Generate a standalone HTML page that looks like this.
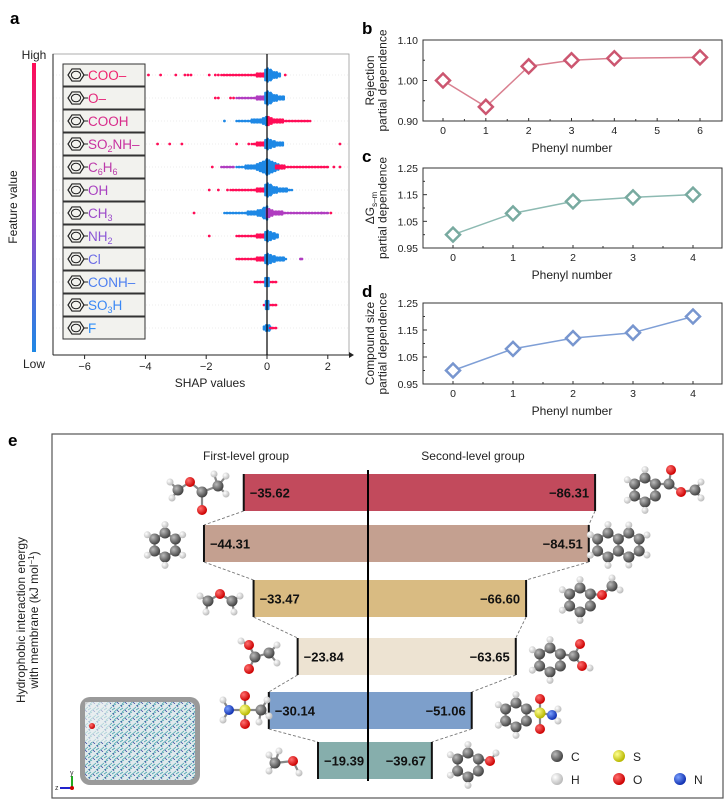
<!DOCTYPE html>
<html><head><meta charset="utf-8"><style>
body{margin:0;background:#fff;}
svg{display:block;font-family:"Liberation Sans",sans-serif;}
</style></head><body>
<svg id="s" width="727" height="800" viewBox="0 0 727 800" xmlns="http://www.w3.org/2000/svg">
<defs>
<radialGradient id="gC" cx="35%" cy="35%" r="65%"><stop offset="0" stop-color="#bbb"/><stop offset="1" stop-color="#444"/></radialGradient>
<radialGradient id="gH" cx="35%" cy="35%" r="65%"><stop offset="0" stop-color="#fff"/><stop offset="1" stop-color="#bbb"/></radialGradient>
<radialGradient id="gO" cx="35%" cy="35%" r="65%"><stop offset="0" stop-color="#ff7070"/><stop offset="1" stop-color="#c00"/></radialGradient>
<radialGradient id="gS" cx="35%" cy="35%" r="65%"><stop offset="0" stop-color="#ffff90"/><stop offset="1" stop-color="#b8b800"/></radialGradient>
<radialGradient id="gN" cx="35%" cy="35%" r="65%"><stop offset="0" stop-color="#7aa0ff"/><stop offset="1" stop-color="#1030b0"/></radialGradient>
<pattern id="mem" width="8" height="8" patternUnits="userSpaceOnUse"><rect width="8" height="8" fill="#dfe9ec"/><path d="M0 2L4 0M2 8L8 3M0 6L3 4" stroke="#4aa6b0" stroke-width="0.8"/><path d="M5 6L7 8M1 1L2 3" stroke="#2b3c9a" stroke-width="0.7"/></pattern>
</defs>
<g id="pa"></g>
<g id="pb"></g>
<g id="pc"></g>
<g id="pd"></g>
<g id="pe"></g>
</svg>
<script>
const NS="http://www.w3.org/2000/svg";
function mk(p,tag,at,txt){const e=document.createElementNS(NS,tag);for(const k in at)e.setAttribute(k,at[k]);if(txt!==undefined)e.textContent=txt;p.appendChild(e);return e;}

// ===== Panel a data =====
const featureNames=[["COO–"],["O–"],["COOH"],["SO",["2"],"NH–"],["C",["6"],"H",["6"]],["OH"],["CH",["3"]],["NH",["2"]],["Cl"],["CONH–"],["SO",["3"],"H"],["F"]];
const featureColors=["#f0246e","#e5267a","#d82a8a","#c832a0","#bb3aaa","#a83fc0","#9b48c8","#8a55d6","#6c6ce6","#4c7ef0","#3a88f5","#2f8ff8"];
const shapTicks=[-6,-4,-2,0,2];
// segments: [row, from, to, colorKey, peakSpread]
const shapSegments=[
[0,-1.5,0,"r",3],[0,-0.05,0.4,"b",6],
[1,-1.0,0,"m",3],[1,-0.05,0.55,"b",6],
[2,-1.0,0,"b",4],[2,0.05,1.4,"r",4],
[3,-0.5,0,"r",3],[3,-0.05,0.5,"b",5],
[4,-1.0,0.5,"b",7],[4,0.3,2.0,"r",5],[4,-1.5,-1.1,"m",1],
[5,-1.2,0,"r",3],[5,-0.05,0.8,"b",6],
[6,-1.4,0,"b",6],[6,0,2.0,"m",4],
[7,-1.0,0,"r",3],[7,-0.05,0.35,"b",5],
[8,-1.0,0,"r",3],[8,-0.05,0.6,"b",5],
[9,-0.4,0.3,"r",1],[9,-0.05,0.05,"b",4],
[10,-0.1,0.3,"r",1],[10,-0.03,0.03,"b",4],
[11,-0.1,0.1,"b",3],[11,0.1,0.3,"r",1]];
// sparse: [row, x, colorKey]
const shapSparse=[[0,-3.9,"r"],[0,-3.5,"r"],[0,-3.0,"r"],[0,-2.7,"r"],[0,-2.6,"r"],[0,-2.5,"r"],[0,-1.9,"r"],[0,-1.7,"r"],[0,-1.6,"r"],[0,0.6,"r"],
[1,-1.7,"r"],[1,-1.6,"r"],[1,-1.2,"r"],[1,-1.1,"r"],[2,-1.4,"b"],
[3,-3.6,"r"],[3,-3.2,"r"],[3,-2.8,"r"],[3,-1.0,"r"],[3,-0.6,"r"],[3,2.4,"r"],
[4,-1.8,"r"],[4,2.2,"r"],[4,2.4,"r"],[5,-1.9,"r"],[5,-1.6,"r"],[5,-1.3,"r"],
[6,-2.4,"r"],[6,2.1,"r"],[6,1.8,"m"],[7,-1.9,"r"],[8,1.1,"m"],[8,1.15,"m"]];
const dotCol={r:"#ff0d57",b:"#1e88e5",m:"#b03cc0"};
(function(){
 const g=document.getElementById("pa");
 const xa=v=>267+v*30.4, ry=i=>75+i*23;
 mk(g,"text",{x:10,y:24,"font-size":17,"font-weight":"bold"},"a");
 mk(g,"rect",{x:53,y:54,width:296,height:301,fill:"none",stroke:"#999","stroke-width":0.8,});
 for(let i=0;i<12;i++)mk(g,"line",{x1:53,x2:349,y1:ry(i),y2:ry(i),stroke:"#ddd","stroke-dasharray":"1 2","stroke-width":0.6});
 mk(g,"line",{x1:53,x2:53,y1:54,y2:355,stroke:"#222","stroke-width":1});
 mk(g,"line",{x1:53,x2:349,y1:355,y2:355,stroke:"#222","stroke-width":1});
 mk(g,"path",{d:"M349 352L354 355L349 358Z",fill:"#222"});
 shapTicks.forEach(t=>{mk(g,"line",{x1:xa(t),x2:xa(t),y1:355,y2:359,stroke:"#222"});
  const tl=mk(g,"text",{x:xa(t),y:370,"font-size":11,"text-anchor":"middle",fill:"#222"},t<0?"−"+(-t):String(t));
  
  });
 mk(g,"text",{x:210,y:387,"font-size":12,"text-anchor":"middle",fill:"#222",},"SHAP values");
 const jit=[0,-1.6,1.6,-3.2,3.2,-4.8,4.8,-6.4,6.4,-8,8,-9.6,9.6];
 shapSegments.forEach(s=>{const [row,a,b,c,sp]=s;let k=0;
  for(let v=a;v<=b+1e-9;v+=0.05){const n=1+Math.round((sp-1)*Math.exp(-Math.abs(v)*3.5));
   const cnt=Math.min(2*n-1,jit.length);
   for(let j=0;j<cnt;j++){const d=mk(g,"circle",{cx:xa(v)+(k%2)*0.6,cy:ry(row)+jit[j]*(j%2?1:1)*0.8,r:1.3,fill:dotCol[c]});
    
    }
   k++;}});
 shapSparse.forEach(s=>{const d=mk(g,"circle",{cx:xa(s[1]),cy:ry(s[0]),r:1.4,fill:dotCol[s[2]]});
  
  });
 mk(g,"line",{x1:xa(0),x2:xa(0),y1:54,y2:355,stroke:"#000","stroke-width":1.2});
 featureNames.forEach((parts,i)=>{const y=ry(i);
  const lg=mk(g,"g",{});
  
  
  mk(lg,"rect",{x:63,y:y-11,width:82,height:22,fill:"#f2f2ee",stroke:"#333","stroke-width":1});
  let pts="";for(let k=0;k<6;k++){const an=Math.PI/3*k;pts+=(76+8*Math.cos(an))+","+(y+7*Math.sin(an))+" ";}
  mk(lg,"polygon",{points:pts,fill:"none",stroke:"#222","stroke-width":1.2});
  mk(lg,"ellipse",{cx:76,cy:y,rx:4.6,ry:3.8,fill:"none",stroke:"#222","stroke-width":1});
  mk(lg,"line",{x1:84,x2:88,y1:y,y2:y,stroke:"#222","stroke-width":1});
  const t=mk(lg,"text",{x:88,y:y+5,"font-size":13.5,fill:featureColors[i]});
  parts.forEach(p=>{if(Array.isArray(p))mk(t,"tspan",{"font-size":9,dy:3},p[0]);else{const ts=mk(t,"tspan",{},p);if(t.childNodes.length>1)ts.setAttribute("dy",-3);}});
 });
 const lgd=mk(g,"linearGradient",{id:"cb",x1:0,y1:0,x2:0,y2:1});
 mk(lgd,"stop",{offset:0,"stop-color":"#ff0d57"});mk(lgd,"stop",{offset:0.5,"stop-color":"#a040c8"});mk(lgd,"stop",{offset:1,"stop-color":"#1e88e5"});
 mk(g,"rect",{x:32,y:63,width:4,height:289,fill:"url(#cb)",});
 mk(g,"text",{x:34,y:59,"font-size":12,"text-anchor":"middle",fill:"#222"},"High");
 mk(g,"text",{x:34,y:368,"font-size":12,"text-anchor":"middle",fill:"#222"},"Low");
 mk(g,"text",{x:0,y:0,"font-size":12,"text-anchor":"middle",fill:"#222",transform:"translate(17,207) rotate(-90)",},"Feature value");
})();

// ===== Panels b-d data =====
const bX=[0,1,2,3,4,6], bY=[1.00,0.935,1.035,1.05,1.055,1.057];
const cX=[0,1,2,3,4], cY=[1.00,1.08,1.125,1.14,1.15];
const dX=[0,1,2,3,4], dY=[1.00,1.08,1.12,1.14,1.20];
const bTicksY=[0.90,1.00,1.10], cdTicksY=[0.95,1.05,1.15,1.25];
const bTicksX=[0,1,2,3,4,5,6], cdTicksX=[0,1,2,3,4];
function pd(id,o){
 const g=document.getElementById(id);
 const xs=v=>o.x0+(v-o.xmin)*(o.x1-o.x0)/(o.xmax-o.xmin);
 const ys=v=>o.yb-(v-o.ymin)*(o.yb-o.yt)/(o.ymax-o.ymin);
 mk(g,"text",{x:362,y:o.yt-6,"font-size":17,"font-weight":"bold"},o.letter);
 mk(g,"rect",{x:423,y:o.yt,width:299,height:o.yb-o.yt,fill:"none",stroke:"#333","stroke-width":1});
 o.ty.forEach((t,i)=>{mk(g,"line",{x1:423,x2:427,y1:ys(t),y2:ys(t),stroke:"#333"});
  const tl=mk(g,"text",{x:418,y:ys(t)+4,"font-size":10.5,"text-anchor":"end",fill:"#222"},t.toFixed(o.dec));
  
  
  if(i<o.ty.length-1){const m=(t+o.ty[i+1])/2;mk(g,"line",{x1:423,x2:425,y1:ys(m),y2:ys(m),stroke:"#333"});}});
 o.tx.forEach((t,i)=>{mk(g,"line",{x1:xs(t),x2:xs(t),y1:o.yb,y2:o.yb-3,stroke:"#333"});
  const tl=mk(g,"text",{x:xs(t),y:o.yb+13,"font-size":10.5,"text-anchor":"middle",fill:"#222"},String(t));
  
  
  if(i<o.tx.length-1)mk(g,"line",{x1:xs(t+0.5),x2:xs(t+0.5),y1:o.yb,y2:o.yb-2,stroke:"#333"});});
 mk(g,"text",{x:572,y:o.yb+31,"font-size":12,"text-anchor":"middle",fill:"#222",},"Phenyl number");
 const yl=mk(g,"text",{x:0,y:0,"font-size":12,"text-anchor":"middle",fill:"#222",transform:"translate(0,"+((o.yt+o.yb)/2)+") rotate(-90)",});
 o.yl.forEach((l,i)=>{const ts=mk(yl,"tspan",{x:0,y:374+i*12.5});if(Array.isArray(l)){mk(ts,"tspan",{},l[0]);mk(ts,"tspan",{"font-size":8,dy:3},l[1]);}else ts.textContent=l;});
 let d="";o.X.forEach((x,i)=>{d+=(i?"L":"M")+xs(x)+" "+ys(o.Y[i]);});
 mk(g,"path",{d:d,fill:"none",stroke:o.lc,"stroke-width":1.5,});
 o.X.forEach((x,i)=>{const cx=xs(x),cy=ys(o.Y[i]);
  const m=mk(g,"polygon",{points:`${cx-7},${cy} ${cx},${cy-7} ${cx+7},${cy} ${cx},${cy+7}`,fill:"#fff",stroke:o.mc,"stroke-width":2.5});
  
  });
}
pd("pb",{letter:"b",X:bX,Y:bY,tx:bTicksX,ty:bTicksY,dec:2,xmin:0,xmax:6,x0:443,x1:700,ymin:0.90,ymax:1.10,yt:40,yb:121,yl:["Rejection","partial dependence"],lc:"#d98090",mc:"#cc5670"});
pd("pc",{letter:"c",X:cX,Y:cY,tx:cdTicksX,ty:cdTicksY,dec:2,xmin:0,xmax:4,x0:453,x1:693,ymin:0.95,ymax:1.25,yt:168,yb:248,yl:[["ΔG","s–m"],"partial dependence"],lc:"#8dbab2",mc:"#78aaa0"});
pd("pd",{letter:"d",X:dX,Y:dY,tx:cdTicksX,ty:cdTicksY,dec:2,xmin:0,xmax:4,x0:453,x1:693,ymin:0.95,ymax:1.25,yt:303,yb:384,yl:["Compound size","partial dependence"],lc:"#7f9fd6",mc:"#7896cf"});

// ===== Panel e data =====
const firstLevel=[35.62,44.31,33.47,23.84,30.14,19.39];
const secondLevel=[86.31,84.51,66.60,63.65,51.06,39.67];
const barColors=["#c24a5c","#c4a090","#d9bb82","#ede3d2","#7d9fcb","#86aeac"];
(function(){
 const g=document.getElementById("pe");
 const cx=368;
 const L=v=>cx-(4.575*v-38.7), R=v=>cx+(3.5*v-75);
 const tops=[474,525,580,638,692,742], h=37;
 mk(g,"text",{x:8,y:446,"font-size":17,"font-weight":"bold"},"e");
 mk(g,"rect",{x:52,y:434,width:671,height:364,fill:"none",stroke:"#555","stroke-width":1.2,});
 mk(g,"text",{x:246,y:460,"font-size":12,"text-anchor":"middle",fill:"#222"},"First-level group");
 mk(g,"text",{x:473,y:460,"font-size":12,"text-anchor":"middle",fill:"#222"},"Second-level group");
 const yl=mk(g,"text",{x:0,y:0,"font-size":12,"text-anchor":"middle",fill:"#222",transform:"translate(0,620) rotate(-90)",});
 mk(yl,"tspan",{x:0,y:25},"Hydrophobic interaction energy");
 mk(yl,"tspan",{x:0,y:38},"with membrane (kJ mol");mk(yl,"tspan",{"font-size":8,dy:-4},"−1");mk(yl,"tspan",{dy:4},")");
 firstLevel.forEach((v,i)=>{const y=tops[i],l=L(v),r=R(secondLevel[i]);
  const b1=mk(g,"rect",{x:l,y:y,width:cx-l,height:h,fill:barColors[i]});
  
  
  const b2=mk(g,"rect",{x:cx,y:y,width:r-cx,height:h,fill:barColors[i]});
  
  
  mk(g,"line",{x1:l,x2:l,y1:y,y2:y+h,stroke:"#111","stroke-width":2});
  mk(g,"line",{x1:r,x2:r,y1:y,y2:y+h,stroke:"#111","stroke-width":2});
  mk(g,"text",{x:l+6,y:y+h/2+5,"font-size":13,"font-weight":"bold",fill:"#111"},"−"+v.toFixed(2));
  mk(g,"text",{x:r-6,y:y+h/2+5,"font-size":13,"font-weight":"bold","text-anchor":"end",fill:"#111"},"−"+secondLevel[i].toFixed(2));
  if(i<firstLevel.length-1){const ny=tops[i+1];
   mk(g,"line",{x1:l,y1:y+h,x2:L(firstLevel[i+1]),y2:ny,stroke:"#777","stroke-dasharray":"3 2","stroke-width":0.9});
   mk(g,"line",{x1:r,y1:y+h,x2:R(secondLevel[i+1]),y2:ny,stroke:"#777","stroke-width":0.9,"stroke-dasharray":"3 2"});}
 });
 mk(g,"line",{x1:cx,x2:cx,y1:470,y2:781,stroke:"#000","stroke-width":2});
 const gr={C:"url(#gC)",H:"url(#gH)",O:"url(#gO)",S:"url(#gS)",N:"url(#gN)"};
 const rad={C:5.5,H:3.5,O:5,S:5.5,N:5};
 function mol(x,y,atoms,bonds,name){const mg=mk(g,"g",{});
  
  
  bonds.forEach(b=>{const a=atoms[b[0]],c=atoms[b[1]];mk(mg,"line",{x1:x+a[0],y1:y+a[1],x2:x+c[0],y2:y+c[1],stroke:"#888","stroke-width":2.2});});
  atoms.forEach(a=>mk(mg,"circle",{cx:x+a[0],cy:y+a[1],r:rad[a[2]],fill:gr[a[2]]}));}
 // ring atoms: angle 30+60k, radius 12 -> k0 right-lower, k5 right-upper
 // ringMol: extras = [x,y,type,parentIndex]; parent index refers to full atom list (ring 0-5, then H's, then extras in order)
 function ringMol(x,y,hs,extra,name){const at=[];for(let k=0;k<6;k++){const an=Math.PI/3*k+Math.PI/6;at.push([12*Math.cos(an),12*Math.sin(an),"C"]);}
  const bd=[[0,1],[1,2],[2,3],[3,4],[4,5],[5,0]];
  hs.forEach(k=>{const a=at[k];at.push([a[0]*1.7,a[1]*1.7,"H"]);bd.push([k,at.length-1]);});
  extra.forEach(e=>{at.push([e[0],e[1],e[2]]);bd.push([e[3],at.length-1]);});
  mol(x,y,at,bd,name);}
 mol(190,490,[[0,-8,"O"],[-12,0,"C"],[12,2,"C"],[12,20,"O"],[28,-4,"C"],[-20,-8,"H"],[-18,8,"H"],[36,-14,"H"],[36,4,"H"],[24,-16,"H"]],[[0,1],[0,2],[2,3],[2,4],[1,5],[1,6],[4,7],[4,8],[4,9]],"molecule-ester");
 ringMol(165,545,[0,1,2,3,4,5],[],"molecule-cyclohexane");
 mol(220,598,[[0,-4,"O"],[-12,3,"C"],[12,3,"C"],[-20,-2,"H"],[-14,14,"H"],[20,-2,"H"],[14,14,"H"]],[[0,1],[0,2],[1,3],[1,4],[2,5],[2,6]],"molecule-ether");
 mol(255,655,[[-6,-10,"O"],[0,2,"C"],[-6,14,"O"],[14,-2,"C"],[-14,-14,"H"],[22,-10,"H"],[22,8,"H"]],[[0,1],[1,2],[1,3],[0,4],[3,5],[3,6]],"molecule-acid");
 mol(245,710,[[-16,0,"N"],[0,0,"S"],[0,-14,"O"],[0,14,"O"],[16,0,"C"],[-22,-10,"H"],[-22,10,"H"],[22,-10,"H"],[24,6,"H"],[14,12,"H"]],[[0,1],[1,2],[1,3],[1,4],[0,5],[0,6],[4,7],[4,8],[4,9]],"molecule-sulfonamide");
 mol(283,763,[[-8,0,"C"],[10,-2,"O"],[-14,-8,"H"],[-14,8,"H"],[-4,-12,"H"],[16,10,"H"]],[[0,1],[0,2],[0,3],[0,4],[1,5]],"molecule-methanol");
 // second-level: ring Hs on 1,2,3,4 (indices 6-9), extras start at 10
 ringMol(645,490,[1,2,3,4],[[24,-6,"C",5],[26,-20,"O",10],[36,2,"O",10],[50,0,"C",12],[56,-8,"H",13],[56,8,"H",13]],"molecule-methyl-benzoate");
 ringMol(608,545,[1,2,3,4],[[20.8,-12,"C",5],[31.2,-6,"C",10],[31.2,6,"C",11],[20.8,12,"C",12],[20.8,-20,"H",10],[39,-10,"H",11],[39,10,"H",12],[20.8,20,"H",13]],"molecule-naphthalene");
 mol(608,545,[[10.4,6,"C"],[20.8,12,"C"]],[[0,1]],"naphthalene-bond");
 ringMol(580,600,[1,2,3,4],[[22,-5,"O",5],[32,-14,"C",10],[40,-10,"H",11],[32,-22,"H",11]],"molecule-anisole");
 ringMol(550,660,[1,2,3,4],[[24,-4,"C",5],[30,-16,"O",10],[32,6,"O",10],[40,8,"H",12]],"molecule-benzoic-acid");
 ringMol(516,715,[1,2,3,4],[[24,-2,"S",5],[24,-16,"O",10],[24,14,"O",10],[36,0,"N",10],[42,-6,"H",13],[42,6,"H",13]],"molecule-benzenesulfonamide");
 ringMol(468,765,[1,2,3,4],[[22,-4,"O",5],[28,-12,"H",10]],"molecule-phenol");
 mk(g,"rect",{x:80,y:697,width:120,height:88,rx:10,fill:"#9a9a9a",});
 mk(g,"rect",{x:85,y:702,width:110,height:78,rx:6,fill:"url(#mem)"});
 mk(g,"rect",{x:85,y:702,width:25,height:40,fill:"#eef2f3",opacity:0.6});
 mk(g,"circle",{cx:92,cy:726,r:3,fill:"url(#gO)"});
 mk(g,"line",{x1:72,x2:72,y1:788,y2:776,stroke:"#2a2","stroke-width":2});
 mk(g,"line",{x1:72,x2:60,y1:788,y2:788,stroke:"#22c","stroke-width":2});
 mk(g,"circle",{cx:72,cy:788,r:2,fill:"#c00"});
 mk(g,"text",{x:70,y:775,"font-size":7,fill:"#333"},"y");mk(g,"text",{x:55,y:790,"font-size":7,fill:"#333"},"z");
 [["C",557,756],["S",619,756],["H",557,779],["O",619,779],["N",680,779]].forEach(l=>{
  const lg=mk(g,"g",{});
  
  
  mk(lg,"circle",{cx:l[1],cy:l[2],r:6,fill:gr[l[0]]});
  mk(lg,"text",{x:l[1]+14,y:l[2]+5,"font-size":12,fill:"#222"},l[0]);});
})();
</script>
</body></html>
